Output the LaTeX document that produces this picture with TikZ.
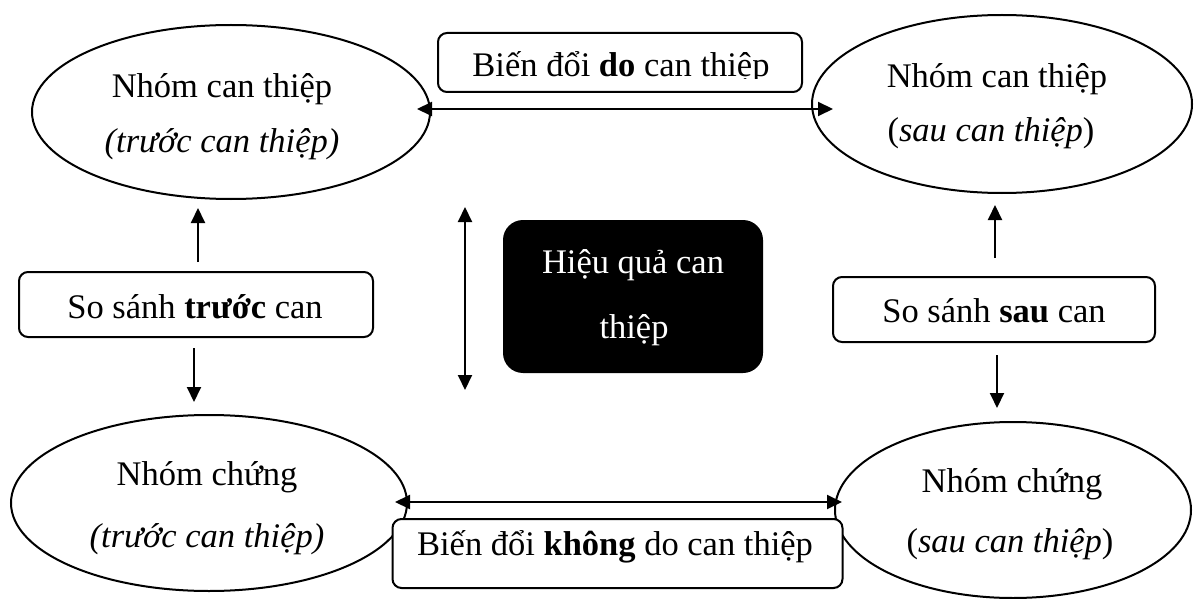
\documentclass[tikz,border=0pt]{standalone}
\usepackage{fontspec}
\setmainfont{Liberation Serif}
\usetikzlibrary{shapes.geometric,arrows.meta}
\begin{document}
\begin{tikzpicture}[x=1pt,y=-1pt,
  grp/.style={ellipse,draw,line width=2pt,inner sep=0pt},
  rbox/.style={draw,line width=2pt,rounded corners=9pt,fill=white,inner sep=0pt},
  effbox/.style={fill=black,rounded corners=20pt,inner sep=0pt},
  lbl/.style={font=\fontsize{34.5pt}{40pt}\selectfont,inner sep=0pt,anchor=base},
  tip/.style={},
  arr/.style={line width=2pt,-{Triangle[length=15pt,width=14pt]}},
  dbl/.style={line width=2pt,{Triangle[length=15pt,width=14pt]}-{Triangle[length=15pt,width=14pt]}}]
\path[fill=white] (0,0) rectangle (1197,599);
\useasboundingbox (0,0) rectangle (1197,599);

% groups (ellipses)
\node[grp,minimum width=398pt,minimum height=174pt] (tl) at (231,112) {};
\node[grp,minimum width=380pt,minimum height=178pt] (tr) at (1002,104) {};
\node[grp,minimum width=396pt,minimum height=176pt] (bl) at (209,503) {};
\node[grp,minimum width=356pt,minimum height=176pt] (br) at (1013,510) {};

\node[lbl] (tl1) at (222,98) {Nhóm can thiệp};
\node[lbl] (tl2) at (222,153) {\itshape (trước can thiệp)};
\node[lbl] (tr1) at (997,88) {Nhóm can thiệp};
\node[lbl] (tr2) at (991,142) {(\textit{sau can thiệp})};
\node[lbl] (bl1) at (207,485) {Nhóm chứng};
\node[lbl] (bl2) at (207,547) {\itshape (trước can thiệp)};
\node[lbl] (br1) at (1012,492) {Nhóm chứng};
\node[lbl] (br2) at (1010,552) {(\textit{sau can thiệp})};

% connector end points
\coordinate (a1) at (417,109); \coordinate (a2) at (833,109);
\coordinate (b1) at (395,502); \coordinate (b2) at (842,502);
\coordinate (c1) at (198,262); \coordinate (c2) at (198,208);
\coordinate (d1) at (194,348); \coordinate (d2) at (194,402);
\coordinate (e1) at (465,207); \coordinate (e2) at (465,390);
\coordinate (f1) at (995,258); \coordinate (f2) at (995,205);
\coordinate (g1) at (997,355); \coordinate (g2) at (997,408);

\draw[dbl] (a1) -- (a2);
\draw[dbl] (b1) -- (b2);
\draw[arr] (c1) -- (c2);
\draw[arr] (d1) -- (d2);
\draw[dbl] (e1) -- (e2);
\draw[arr] (f1) -- (f2);
\draw[arr] (g1) -- (g2);

% boxes
\node[rbox,minimum width=364pt,minimum height=59pt] (bdo) at (620,62.5) {};
\node[rbox,minimum width=354pt,minimum height=65pt] (sst) at (196,304.5) {};
\node[rbox,minimum width=322pt,minimum height=65pt] (sss) at (994,309.5) {};
\node[rbox,minimum width=450pt,minimum height=69pt] (bkd) at (617.5,553.5) {};
\node[effbox,minimum width=260pt,minimum height=153pt] (hq) at (633,296.5) {};

\begin{scope}
\clip (430,0) rectangle (810,78.5);
\node[lbl] (bdot) at (621,77) {Biến đổi \textbf{do} can thiệp};
\end{scope}
\node[lbl] (sstt) at (195,318) {So sánh \textbf{trước} can};
\node[lbl] (ssst) at (994,322) {So sánh \textbf{sau} can};
\node[lbl] (bkdt) at (615,555) {Biến đổi \textbf{không} do can thiệp};
\node[lbl,text=white] (hq1) at (633,273) {Hiệu quả can};
\node[lbl,text=white] (hq2) at (634,338) {thiệp};
\end{tikzpicture}
\end{document}
